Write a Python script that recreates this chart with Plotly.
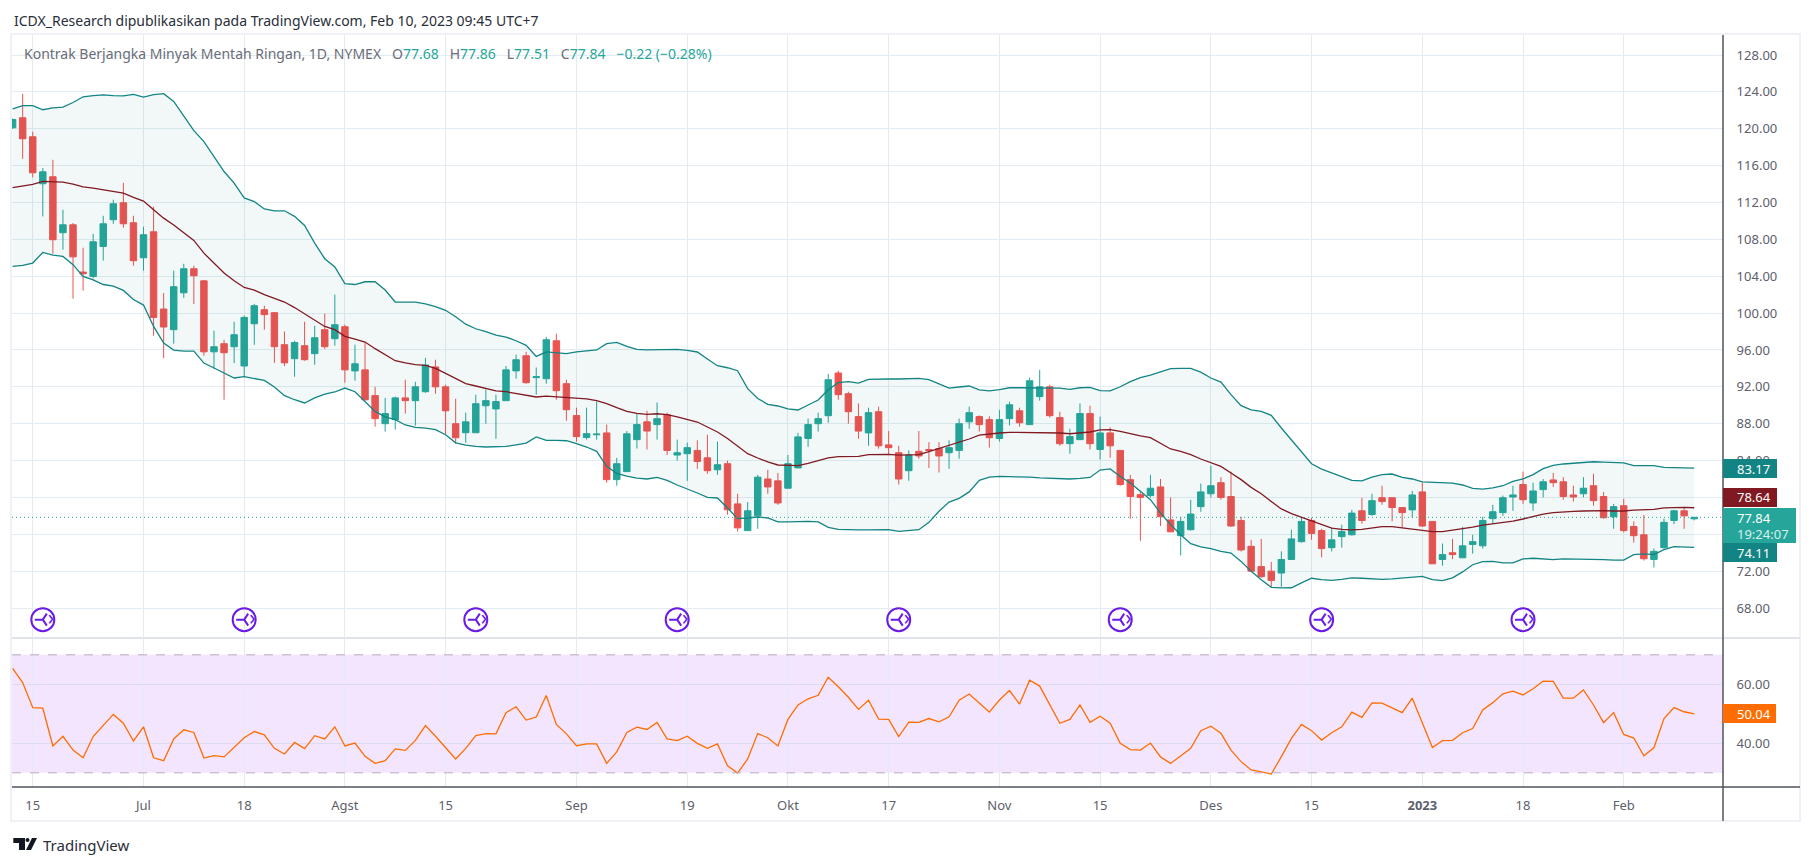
import plotly.graph_objects as go
from plotly.subplots import make_subplots

# Daily bars, oldest first
opens = [120.1, 121.19, 119.13, 114.03, 114.79, 108.72, 109.58, 104.45, 103.98, 107.23, 110.13, 111.97, 109.8, 106, 108.82, 100.44, 98.2, 102.2, 104.81, 103.5,
         95.8, 96.68, 96.35, 94.26, 98.84, 100.37, 100.05, 96.57, 95.05, 96.46, 95.6, 98.2, 97.22, 98.52, 93.73, 93.84, 91.05, 88, 88.44, 90.8,
         90.5, 91.47, 94.16, 92, 88, 87.02, 87.02, 89.95, 89.6, 90.5, 93.73, 95.37, 93, 92.88, 97, 92.34, 88.88, 86.5, 86.8, 87,
         81.93, 82.8, 86.27, 88.2, 87.9, 88.97, 84.6, 84.74, 85.1, 84.3, 83, 83.66, 79.3, 76.4, 78, 82, 81.8, 81, 83.2, 86.4,
         88, 88.87, 93.5, 91.25, 88.77, 87, 89.3, 85.7, 84.85, 82.9, 85, 85.2, 85.3, 84.85, 85.1, 88.2, 88.77, 88.44, 86.4, 88.55,
         89.4, 87.9, 90.94, 92, 88.66, 85.83, 86.27, 89.1, 85.2, 87, 85.1, 81.93, 80.3, 80.2, 81.14, 77.56, 75.85, 76.5, 79, 80.4,
         81.6, 80.1, 77.5, 74.7, 72.5, 72, 71.8, 73.27, 75.2, 77.5, 76.4, 74.55, 75.75, 75.95, 78.55, 78.15, 79.97, 79.97, 78.9, 78.65,
         80.6, 77.4, 73.27, 74, 73.45, 74.9, 74.75, 77.7, 78.35, 80.05, 81.4, 79.4, 80.85, 81.9, 81.7, 80.27, 80.4, 81.27, 80.1, 77.9,
         79.1, 76.85, 75.95, 73.27, 74.55, 77.5, 78.55, 77.68]
highs = [121.1, 123.79, 119.67, 115.73, 116.63, 111.21, 109.77, 107.09, 108.6, 110.56, 112.3, 114.14, 110.56, 109.36, 111.53, 102.17, 104.6, 105.35, 105.14, 103.6,
         98.09, 97.11, 99.06, 99.72, 101, 100.8, 100.05, 98, 97, 99.06, 98.63, 99.94, 102, 98.74, 96.57, 96.8, 92, 90.8, 90.94, 92.77,
         92.55, 95.14, 94.94, 92.23, 90.7, 89.2, 91.15, 91.7, 91.15, 94.26, 95.5, 95.8, 94.1, 97.43, 97.76, 92.77, 89.74, 89.74, 90.4, 87.9,
         84.3, 87.2, 89.1, 89.4, 90.3, 89.2, 86.27, 85.94, 86.2, 86.8, 86.05, 84, 80.4, 79.5, 82.45, 83, 82.66, 84.6, 87, 88.55,
         89.2, 93.4, 93.75, 91.47, 90.2, 89.74, 89.85, 87.2, 85.6, 85.1, 87.2, 86, 86, 86.2, 88.55, 89.85, 88.9, 88.8, 89.5, 90.4,
         89.74, 93, 93.84, 92.23, 89.3, 87.45, 90.2, 89.95, 88.77, 87.6, 85.1, 82.45, 80.6, 82.45, 82, 80, 77.9, 79.75, 81.5, 83.45,
         82.2, 82.8, 77.9, 75.4, 75.5, 73, 74.15, 76.5, 77.9, 77.8, 76.6, 76.7, 77.05, 78.65, 79.95, 80.4, 81.27, 79.97, 78.9, 80.7,
         81.6, 77.4, 75, 75.5, 76.8, 75.95, 77.9, 79.2, 80.2, 81.27, 82.8, 81.6, 82, 82.66, 82.2, 81.27, 82.2, 82.56, 80.6, 79.3,
         79.85, 77.4, 78.1, 74.45, 77.7, 78.65, 78.9, 77.86]
lows = [120, 116.74, 114.72, 110.48, 106.44, 106.87, 101.56, 102.43, 103.76, 105.7, 109.69, 109.26, 105.14, 104.6, 97.54, 95.12, 96.68, 101.65, 101, 95.37,
        93.93, 90.6, 94.58, 93.06, 96.57, 98.2, 94.6, 94.26, 93.1, 94.83, 94.4, 96.1, 96.46, 92.45, 92.66, 90.5, 87.68, 87.14, 87.36, 89.1,
        87.8, 91.36, 91.25, 86.8, 85.83, 85.94, 87.02, 88, 86.37, 90.5, 92.88, 92.34, 91.15, 92.34, 90.6, 88.33, 86.05, 86.27, 86.27, 81.6,
        81.27, 82.8, 85.3, 85.2, 86.27, 84.6, 84, 81.8, 83.1, 82.56, 82.45, 78.12, 76.3, 76.4, 76.6, 80.4, 79.2, 81, 83.2, 85.5,
        87.14, 88.1, 90.6, 88, 86.37, 85.6, 85.3, 84.6, 81.4, 81.8, 84.2, 83.2, 82.7, 83.1, 84.2, 87.45, 87.14, 85.4, 86.05, 87.8,
        87.68, 87.9, 90.5, 88.66, 85.6, 84.74, 86.27, 85.2, 84.1, 84.3, 81.27, 77.7, 75.3, 80, 76.9, 76.27, 73.7, 76.4, 78.45, 80,
        79.75, 76.8, 74.13, 71.9, 71.3, 70.3, 70.3, 73.27, 75.1, 75.4, 73.5, 74.15, 74.55, 75.85, 77.15, 78, 79.2, 77.4, 76.7, 77.8,
        76.8, 72.8, 72.6, 73.3, 73.45, 73.9, 74.45, 77.15, 78, 78.55, 79.3, 78.55, 80, 81.14, 79.75, 79.55, 80, 79.1, 77.7, 76.6,
        76.2, 75.1, 73.15, 72.4, 74.45, 77.1, 76.6, 77.51]
closes = [121, 118.91, 115.22, 115.33, 107.96, 109.58, 106.1, 104.27, 107.74, 109.69, 111.86, 109.69, 105.68, 108.5, 99.53, 98.49, 102.86, 104.81, 104.05, 95.8,
          96.35, 95.7, 97.65, 99.53, 100.8, 99.83, 96.35, 94.6, 96.8, 94.94, 97.33, 96.35, 98.74, 93.84, 94.5, 90.6, 88.55, 89.1, 90.8, 90.5,
          92, 94.37, 92, 89.4, 86.48, 88.2, 90.17, 90.5, 90.4, 93.84, 94.94, 92.45, 93.1, 97.11, 91.58, 89.52, 86.6, 86.92, 86.87, 81.93,
          83.66, 86.9, 87.9, 87.2, 88.55, 85.1, 84.85, 85.4, 83.9, 82.9, 83.55, 78.66, 76.7, 78.55, 82.2, 81.14, 79.4, 83.66, 86.57, 87.9,
          88.55, 92.77, 91.15, 89.3, 87.2, 89.2, 85.6, 85.4, 82, 84.6, 84.5, 85.1, 84.5, 85.4, 88, 89.2, 87.9, 86.48, 88.44, 90.05,
          88.1, 92.66, 92, 88.87, 85.83, 86.6, 89.1, 85.83, 87, 85.6, 81.4, 80.1, 80, 81, 77.9, 76.27, 77.4, 78.2, 80.6, 81.27,
          80, 76.9, 74.3, 72, 71.4, 71, 73.27, 75.5, 77.4, 76.1, 74.45, 75.4, 76.3, 78.3, 77.5, 79.65, 79.55, 78.9, 78.35, 80.27,
          76.9, 72.8, 73.8, 73.8, 74.75, 75.2, 77.5, 78.45, 79.97, 80.27, 79.75, 80.7, 81.7, 81.6, 80.1, 80.05, 81, 79.65, 77.8, 79,
          76.4, 75.85, 73.35, 74.15, 77.3, 78.55, 78, 77.84]

# Bollinger bands
bb_upper = [122.16, 122.5, 122.5, 122.06, 122.27, 122.35, 122.85, 123.47, 123.6, 123.68, 123.6, 123.57, 123.72, 123.43, 123.7, 123.8, 122.96, 121.33, 119.8, 118.6,
            117, 115.36, 114.1, 112.5, 112.1, 111.3, 111.1, 111.1, 110.5, 109.5, 107.6, 105.9, 105, 103.2, 103.1, 103.4, 103.4, 102.5, 101.2, 101.2,
            101.2, 101, 100.7, 100.3, 99.6, 98.8, 98.3, 98, 97.6, 97.4, 97, 96.5, 95.3, 95.8, 95.7, 95.6, 95.8, 95.9, 96, 96.68,
            96.82, 96.38, 96.06, 96, 96, 96.06, 96.06, 95.95, 95.78, 95.02, 94.29, 94.07, 93.75, 91.8, 90.74, 90.1, 89.92, 89.6, 89.49, 90.03,
            90.57, 91.69, 92.45, 92.56, 92.41, 92.8, 92.85, 92.85, 92.85, 92.88, 92.91, 92.77, 92.3, 91.87, 91.98, 92.09, 91.66, 91.55, 91.69, 91.9,
            91.9, 91.9, 91.9, 91.9, 91.87, 91.72, 91.9, 91.94, 91.58, 91.55, 92.01, 92.56, 93, 93.28, 93.64, 93.97, 94, 94, 93.6, 92.96,
            92.52, 91.15, 89.95, 89.5, 89.33, 88.9, 87.53, 86.27, 85, 83.66, 83.08, 82.65, 82.2, 81.85, 81.8, 82.2, 82.47, 82.54, 82.18, 82,
            81.68, 81.63, 81.63, 81.56, 81.35, 80.98, 80.9, 81.03, 81.27, 81.74, 82, 82.47, 83.12, 83.48, 83.63, 83.69, 83.8, 83.87, 83.83, 83.77,
            83.74, 83.45, 83.48, 83.45, 83.27, 83.2, 83.2, 83.17]
bb_basis = [113.6, 113.8, 113.96, 114.28, 114.28, 114.2, 114, 113.7, 113.56, 113.38, 113.24, 113.02, 112.55, 112.15, 111.2, 110.3, 109.55, 108.75, 107.88, 106.5,
            105.43, 104.34, 103.5, 102.78, 102.5, 102, 101.6, 101.2, 100.6, 99.9, 99.2, 98.55, 98.2, 97.47, 97.18, 96.86, 96.14, 95.48, 94.83, 94.6,
            94.4, 94.32, 94, 93.46, 92.88, 92.34, 92.09, 91.83, 91.55, 91.47, 91.29, 91.07, 90.9, 91, 90.93, 90.82, 90.8, 90.7, 90.5, 90.17,
            89.74, 89.34, 89.12, 89.01, 89.08, 88.98, 88.73, 88.47, 88.18, 87.64, 87.1, 86.4, 85.54, 84.75, 84.28, 83.85, 83.52, 83.45, 83.45, 83.7,
            84, 84.28, 84.42, 84.46, 84.46, 84.64, 84.67, 84.67, 84.6, 84.6, 84.64, 84.97, 85.3, 85.62, 85.97, 86.34, 86.77, 86.91, 86.99, 87.06,
            87.06, 87.06, 87.06, 87.06, 86.99, 86.91, 86.99, 87.1, 87.32, 87.35, 87.17, 86.91, 86.67, 86.48, 85.83, 85.26, 85, 84.64, 84.17, 83.74,
            83.37, 82.65, 81.93, 81.09, 80.4, 79.57, 78.75, 78.24, 77.84, 77.44, 77, 76.68, 76.54, 76.47, 76.54, 76.72, 76.83, 76.83, 76.68, 76.58,
            76.43, 76.29, 76.29, 76.43, 76.58, 76.79, 77, 77.15, 77.23, 77.44, 77.66, 77.95, 78.2, 78.35, 78.46, 78.49, 78.53, 78.56, 78.56, 78.53,
            78.53, 78.63, 78.63, 78.7, 78.86, 78.92, 78.92, 78.88]
bb_lower = [105.06, 105.17, 105.43, 106.58, 106.3, 106.15, 105.25, 103.98, 103.6, 103.1, 102.92, 102.46, 101.47, 100.87, 98.55, 96.75, 95.99, 95.88, 95.88, 94.58,
            94.04, 93.5, 92.96, 93.1, 92.88, 92.7, 91.98, 91.04, 90.6, 90.25, 90.8, 91.22, 91.44, 91.87, 91.47, 90.44, 89.33, 88.74, 88.44, 87.86,
            87.6, 87.53, 87.35, 86.8, 85.93, 85.68, 85.53, 85.47, 85.47, 85.53, 85.71, 85.9, 86.57, 86.2, 86.2, 86.15, 85.83, 85.47, 85, 83.37,
            82.6, 82.3, 82.1, 82, 82.17, 81.85, 81.35, 80.95, 80.48, 80, 79.94, 78.86, 77.7, 77.77, 77.88, 77.77, 77.34, 77.34, 77.38, 77.4,
            77.34, 76.75, 76.53, 76.47, 76.47, 76.47, 76.5, 76.5, 76.32, 76.43, 76.5, 77.3, 78.5, 79.5, 79.9, 80.6, 81.85, 82.2, 82.28, 82.25,
            82.25, 82.2, 82.13, 82.1, 82.04, 82, 82.07, 82.17, 82.97, 83.1, 82.28, 81.56, 80.66, 79.76, 78.31, 77.05, 75.96, 74.98, 74.63, 74.45,
            74.15, 73.97, 73.06, 72, 71.08, 70.25, 70.18, 70.2, 70.73, 71.23, 71.08, 71, 71.12, 71.27, 71.23, 71.16, 71.12, 71.16, 71.27, 71.37,
            71.44, 71.08, 70.97, 71.27, 71.92, 72.7, 73.03, 73.07, 72.89, 72.89, 73.33, 73.4, 73.36, 73.25, 73.33, 73.33, 73.28, 73.25, 73.25, 73.2,
            73.2, 73.8, 73.87, 73.8, 74.34, 74.66, 74.66, 74.59]

# RSI pane
rsi = [65.4, 60.6, 52.1, 51.9, 39.1, 42.4, 37.7, 35.1, 42.3, 46, 49.8, 46.8, 40.8, 45.6, 35.1, 34.1, 41.5, 44.6, 43.7, 35,
       35.8, 35.4, 38.6, 41.9, 44, 42.9, 38.3, 36.4, 40.3, 38.2, 42.6, 41.5, 45.6, 39.1, 40.1, 35.6, 33.2, 34.1, 38.1, 37.6,
       41, 46, 42.4, 38.4, 34.7, 38.3, 42.6, 43.3, 43.2, 50.4, 52.4, 47.9, 48.9, 56.2, 46.4, 43.2, 39.2, 39.8, 39.8, 33.2,
       37.1, 43.7, 45.5, 44.7, 47.1, 41.5, 40.9, 42.4, 40, 38.3, 39.8, 32.4, 29.9, 34.7, 43.3, 41.9, 39.1, 48.1, 53, 55.1,
       56.3, 62.4, 59.2, 55.6, 51.5, 54.6, 48.2, 48.1, 42.3, 47.2, 47.1, 48.4, 47.3, 49, 54.6, 56.7, 53.7, 50.6, 54.7, 57.9,
       53.3, 61.4, 59.4, 53.1, 46.8, 48.1, 53, 47.1, 49.2, 46.8, 40, 37.9, 37.7, 40.1, 35.4, 33.2, 35.7, 38.3, 44.3, 45.8,
       43.4, 37.7, 33.8, 31, 30.3, 29.6, 35.5, 41.7, 46.4, 44.3, 41.1, 43.6, 45.6, 50.6, 48.8, 53.7, 53.6, 52.1, 50.4, 55.3,
       46.8, 38.6, 40.9, 41, 43.6, 45, 51.3, 53.8, 56.8, 57.7, 56.4, 58.5, 61.1, 61, 55.3, 55.3, 58.1, 53, 47, 50.4,
       43, 41.8, 35.8, 38.5, 48.4, 52.1, 50.7, 50]

bars = list(range(len(closes)))

time_ticks = [2, 13, 23, 33, 43, 56, 67, 77, 87, 98, 108, 119, 129, 140, 150, 160]
time_labels = ['15', 'Jul', '18', 'Agst', '15', 'Sep', '19', 'Okt', '17', 'Nov', '15', 'Des', '15', '<b>2023</b>', '18', 'Feb']
price_ticks = [68, 72, 76, 80, 84, 88, 92, 96, 100, 104, 108, 112, 116, 120, 124, 128]
# 76 and 80 sit under the price tags, only their grid lines show
price_labels = ['68.00', '72.00', '', '', '84.00', '88.00', '92.00', '96.00', '100.00', '104.00', '108.00', '112.00', '116.00', '120.00', '124.00', '128.00']
rsi_ticks = [40, 60]
rsi_levels = [30, 70]

# rollover markers under the candles
event_bars = [3, 23, 46, 66, 88, 110, 130, 150]
event_price = [66.74] * len(event_bars)

GREEN = '#26a69a'
RED = '#ef5350'
BAND = '#138484'
BASIS = '#801922'
PURPLE = '#6a1be8'
ORANGE = '#ff6d00'
GRID = '#e3ecf2'
TEXT = '#5d606b'
FONT = 'Noto Sans'

# page is 1813x866, plot box runs from x=12..1723 and y=35..787
W, H = 1813, 866
LEFT, RIGHT, TOP, BOTTOM = 12, 1723, 35, 787


def px_x(x):
    return (x - LEFT) / (RIGHT - LEFT)


def px_y(y):
    return (BOTTOM - y) / (BOTTOM - TOP)


def box(x0, y0, x1, y1, **kw):
    return dict(type='rect', xref='paper', yref='paper', x0=px_x(x0), x1=px_x(x1), y0=px_y(y0), y1=px_y(y1), **kw)


def rule(x0, y0, x1, y1, color, width=1):
    return dict(type='line', xref='paper', yref='paper', x0=px_x(x0), x1=px_x(x1), y0=px_y(y0), y1=px_y(y1),
                line=dict(color=color, width=width))


def label(x, y, text, color=TEXT, size=13, anchor='left'):
    return dict(xref='paper', yref='paper', x=px_x(x), y=px_y(y), text=text, showarrow=False, xanchor=anchor,
                yanchor='middle', font=dict(color=color, size=size, family=FONT), borderpad=0)


fig = make_subplots(rows=2, cols=1, shared_xaxes=True, vertical_spacing=0, row_heights=[603, 149])

fig.add_trace(go.Scatter(x=bars, y=bb_upper, mode='lines', line=dict(color=BAND, width=1.3)), row=1, col=1)
fig.add_trace(go.Scatter(x=bars, y=bb_lower, mode='lines', line=dict(color=BAND, width=1.3), fill='tonexty',
                         fillcolor='rgba(0,115,115,0.05)'), row=1, col=1)
fig.add_trace(go.Scatter(x=bars, y=bb_basis, mode='lines', line=dict(color=BASIS, width=1.3)), row=1, col=1)

fig.add_trace(go.Candlestick(x=bars, open=opens, high=highs, low=lows, close=closes,
                             increasing=dict(line=dict(color=GREEN, width=1), fillcolor=GREEN),
                             decreasing=dict(line=dict(color=RED, width=1), fillcolor=RED),
                             whiskerwidth=0), row=1, col=1)

fig.add_trace(go.Scatter(x=event_bars, y=event_price, mode='markers',
                         marker=dict(symbol='circle-open', size=23, color=PURPLE, line=dict(width=2, color=PURPLE))),
              row=1, col=1)
fig.add_trace(go.Scatter(x=event_bars, y=event_price, mode='markers',
                         marker=dict(symbol='y-left', size=10, color=PURPLE, line=dict(width=2, color=PURPLE))),
              row=1, col=1)
fig.add_trace(go.Scatter(x=event_bars, y=event_price, mode='text', text=['\u00a0\u00a0\u00a0›'] * len(event_bars),
                         textposition='middle center', textfont=dict(size=21, color=PURPLE, family=FONT)),
              row=1, col=1)

fig.add_trace(go.Scatter(x=bars, y=rsi, mode='lines', line=dict(color=ORANGE, width=1.3)), row=2, col=1)

# RSI band and last-price line
fig.add_shape(type='rect', xref='x2 domain', yref='y2', x0=0, x1=1, y0=rsi_levels[0], y1=rsi_levels[1],
              fillcolor='rgba(165,50,245,0.125)', line_width=0, layer='below')
for lvl in rsi_levels:
    fig.add_shape(type='line', xref='x2 domain', yref='y2', x0=0, x1=1, y0=lvl, y1=lvl,
                  line=dict(color='#b9a9c6', width=1, dash='dash'))
fig.add_shape(type='line', xref='x domain', yref='y', x0=0, x1=1, y0=closes[-1], y1=closes[-1],
              line=dict(color=GREEN, width=1, dash='1px,3px'))

# frame, pane divider and axis lines
FRAME = '#eff1f6'
for s in [box(11, 34, 1800, 821, line=dict(color=FRAME, width=2)),
          rule(12, 638, 1800, 638, '#e0e3eb', 2),
          rule(12, 787, 1800, 787, '#50535e', 1.5),
          rule(1723, 35, 1723, 821, '#50535e', 1.5)]:
    fig.add_shape(s)

# price tags on the axis
tags = [(459, 478, 1777, '#138484', '83.17', 468.5),
        (488, 507, 1777, '#801922', '78.64', 497.5),
        (543, 562, 1777, '#138484', '74.11', 552.5),
        (704, 723, 1776, ORANGE, '50.04', 713.5)]
annotations = []
for y0, y1, x1, col, txt, yc in tags:
    fig.add_shape(box(1723, y0, x1, y1, fillcolor=col, line_width=0))
    annotations.append(label(1736, yc, txt, color='white'))
fig.add_shape(box(1723, 508, 1796, 543, fillcolor=GREEN, line_width=0))
annotations.append(label(1736, 518, '77.84', color='white'))
annotations.append(label(1736, 534, '19:24:07', color='#d8f0ed'))

# logo
fig.add_shape(box(13.3, 838, 25, 843, fillcolor='#131722', line_width=0))
fig.add_shape(box(19, 838, 25, 850, fillcolor='#131722', line_width=0))
fig.add_shape(dict(type='circle', xref='paper', yref='paper', x0=px_x(25.5), x1=px_x(29.5), y0=px_y(838), y1=px_y(842),
                   fillcolor='#131722', line_width=0))
fig.add_shape(dict(type='path', xref='paper', yref='paper', fillcolor='#131722', line_width=0,
                   path='M %f,%f L %f,%f L %f,%f L %f,%f Z' % (px_x(32), px_y(838), px_x(37), px_y(838),
                                                               px_x(31), px_y(850), px_x(26), px_y(850))))

V = '<span style="color:%s">%%s</span>' % GREEN
GAP = '\u00a0\u00a0\u00a0'
legend = ('Kontrak Berjangka Minyak Mentah Ringan, 1D, NYMEX' + GAP + 'O' + V % '77.68' + GAP + 'H' + V % '77.86'
          + GAP + 'L' + V % '77.51' + GAP + 'C' + V % '77.84' + GAP + V % '−0.22\u00a0(−0.28%)')
annotations += [
    label(13, 20, 'ICDX_Research dipublikasikan pada TradingView.com, Feb 10, 2023 09:45 UTC+7', color='#2a2e39', size=14),
    label(23, 54, legend, color='#6a6d78', size=14),
    label(42, 845, 'TradingView', color='#2a2e39', size=15),
]

fig.update_layout(width=W, height=H, margin=dict(l=LEFT, r=W - RIGHT, t=TOP, b=H - BOTTOM), paper_bgcolor='white',
                  plot_bgcolor='white', showlegend=False, boxgap=0.36, boxgroupgap=0,
                  font=dict(family=FONT, size=13, color=TEXT), annotations=annotations)

for row in (1, 2):
    fig.update_xaxes(range=[-0.06, 169.86], tickvals=time_ticks, ticktext=time_labels, showgrid=True, gridcolor=GRID,
                     gridwidth=1, zeroline=False, showline=False, rangeslider_visible=False, row=row, col=1)
fig.update_xaxes(showticklabels=False, row=1, col=1)
fig.update_xaxes(ticks='outside', ticklen=6, tickcolor='rgba(0,0,0,0)', tickfont=dict(size=13, color=TEXT), row=2, col=1)

fig.update_yaxes(side='right', range=[64.75, 130.17], tickvals=price_ticks, ticktext=price_labels, gridcolor=GRID, zeroline=False,
                 ticks='outside', ticklen=10, tickcolor='rgba(0,0,0,0)', tickfont=dict(size=13, color=TEXT), row=1, col=1)
fig.update_yaxes(side='right', range=[25.2, 75.7], tickvals=rsi_ticks, tickformat='.2f', gridcolor='#dcdcf0', zeroline=False,
                 ticks='outside', ticklen=10, tickcolor='rgba(0,0,0,0)', tickfont=dict(size=13, color=TEXT), row=2, col=1)

fig.write_html("out.html", config=dict(displayModeBar=False), post_script="document.body.style.margin='0';")
